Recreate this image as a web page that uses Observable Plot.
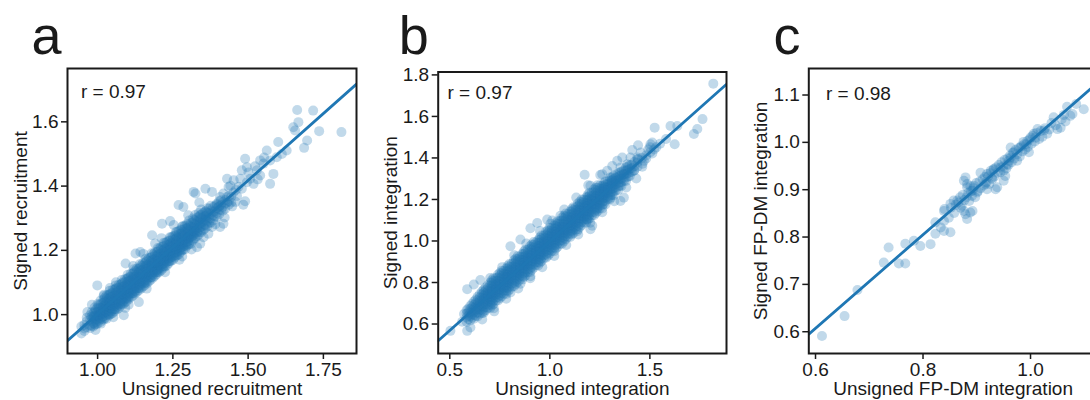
<!DOCTYPE html>
<html>
<head>
<meta charset="utf-8">
<script src="https://cdn.jsdelivr.net/npm/d3@7"></script>
<script src="https://cdn.jsdelivr.net/npm/@observablehq/plot@0.6"></script>
<style>
  html, body { margin: 0; padding: 0; background: #fff; overflow: hidden; }
  #fig { position: relative; width: 1090px; height: 400px; overflow: hidden; background: #fff; }
  #fig > svg { position: absolute; top: 0; }
</style>
</head>
<body>
<div id="fig"></div>
<script>
// ---- Panel a: signed vs unsigned recruitment ----
// dense band, one column of signed values per unsigned value
const recruitCore = [
  [0.946, [0.941, 0.963]],
  [0.956, [0.949, 0.968, 0.957]],
  [0.964, [0.961, 0.979, 0.990]],
  [0.975, [0.966, 0.984, 0.998, 0.958]],
  [0.986, [0.973, 0.989, 1.004, 0.994, 0.963]],
  [0.994, [0.977, 0.993, 1.005, 1.016, 0.984, 0.969]],
  [1.004, [0.981, 0.995, 1.009, 1.019, 1.031, 1.000]],
  [1.016, [0.986, 1.001, 1.011, 1.022, 1.036, 1.006, 0.993]],
  [1.024, [0.989, 1.005, 1.018, 1.029, 1.042, 1.053, 1.012]],
  [1.036, [0.997, 1.013, 1.025, 1.036, 1.048, 1.061, 1.021, 1.003]],
  [1.044, [1.002, 1.018, 1.030, 1.043, 1.055, 1.066, 1.027, 1.009]],
  [1.056, [1.010, 1.026, 1.039, 1.051, 1.062, 1.078, 1.033, 1.017]],
  [1.064, [1.016, 1.033, 1.045, 1.059, 1.070, 1.084, 1.042, 1.024]],
  [1.076, [1.027, 1.040, 1.054, 1.066, 1.079, 1.093, 1.047, 1.034]],
  [1.084, [1.032, 1.050, 1.061, 1.075, 1.087, 1.100, 1.058, 1.041]],
  [1.096, [1.041, 1.056, 1.072, 1.084, 1.094, 1.111, 1.063, 1.050]],
  [1.104, [1.048, 1.065, 1.077, 1.092, 1.105, 1.116, 1.073, 1.057]],
  [1.116, [1.058, 1.072, 1.087, 1.099, 1.113, 1.127, 1.080, 1.066]],
  [1.124, [1.065, 1.082, 1.094, 1.109, 1.119, 1.136, 1.090, 1.073]],
  [1.136, [1.075, 1.089, 1.105, 1.116, 1.130, 1.142, 1.098, 1.083]],
  [1.144, [1.081, 1.099, 1.111, 1.126, 1.137, 1.153, 1.105, 1.092]],
  [1.156, [1.091, 1.105, 1.122, 1.133, 1.147, 1.159, 1.115, 1.098]],
  [1.164, [1.097, 1.116, 1.128, 1.143, 1.154, 1.169, 1.122, 1.108]],
  [1.176, [1.108, 1.122, 1.139, 1.150, 1.165, 1.177, 1.132, 1.115]],
  [1.184, [1.115, 1.133, 1.145, 1.161, 1.171, 1.188, 1.139, 1.125]],
  [1.196, [1.126, 1.139, 1.156, 1.167, 1.182, 1.195, 1.149, 1.132]],
  [1.204, [1.132, 1.150, 1.162, 1.178, 1.189, 1.205, 1.156, 1.143]],
  [1.216, [1.143, 1.157, 1.173, 1.184, 1.199, 1.212, 1.166, 1.149]],
  [1.224, [1.149, 1.167, 1.180, 1.195, 1.206, 1.223, 1.173, 1.160]],
  [1.236, [1.160, 1.174, 1.190, 1.202, 1.217, 1.230, 1.183, 1.166]],
  [1.244, [1.167, 1.184, 1.197, 1.213, 1.224, 1.241, 1.190, 1.177]],
  [1.256, [1.177, 1.191, 1.208, 1.219, 1.234, 1.247, 1.200, 1.184]],
  [1.264, [1.184, 1.201, 1.214, 1.230, 1.241, 1.258, 1.207, 1.194]],
  [1.276, [1.195, 1.208, 1.225, 1.237, 1.252, 1.265, 1.217, 1.201]],
  [1.284, [1.202, 1.219, 1.231, 1.247, 1.258, 1.275, 1.224, 1.212]],
  [1.296, [1.213, 1.226, 1.242, 1.254, 1.269, 1.282, 1.235, 1.219]],
  [1.304, [1.220, 1.237, 1.249, 1.265, 1.276, 1.293, 1.242]],
  [1.316, [1.231, 1.244, 1.260, 1.271, 1.287, 1.299, 1.252]],
  [1.324, [1.238, 1.255, 1.267, 1.282, 1.293, 1.310, 1.259]],
  [1.336, [1.249, 1.262, 1.278, 1.289, 1.304, 1.316]],
  [1.344, [1.256, 1.273, 1.285, 1.300, 1.311, 1.327]],
  [1.356, [1.267, 1.280, 1.296, 1.306, 1.321]],
  [1.364, [1.274, 1.291, 1.302, 1.317, 1.331]],
  [1.376, [1.286, 1.299, 1.313, 1.324, 1.339]],
  [1.384, [1.293, 1.309, 1.320, 1.335]],
  [1.396, [1.304, 1.316, 1.331, 1.342]],
  [1.404, [1.312, 1.327, 1.338, 1.353]],
  [1.416, [1.323, 1.335, 1.350]],
  [1.424, [1.330, 1.346, 1.357]],
  [1.436, [1.342, 1.353, 1.369]],
  [1.444, [1.349, 1.367]],
  [0.980, [0.965, 0.979, 0.993, 1.007]],
  [0.990, [0.969, 0.983, 0.996, 1.009, 1.022]],
  [1.000, [0.972, 0.985, 0.997, 1.009, 1.021, 1.033]],
  [1.010, [0.977, 0.989, 1.000, 1.010, 1.021, 1.032, 1.044]],
  [1.020, [0.984, 0.995, 1.006, 1.016, 1.026, 1.036, 1.047, 1.058]],
  [1.030, [0.987, 0.999, 1.010, 1.019, 1.029, 1.040, 1.051, 1.060]],
  [1.040, [1.000, 1.011, 1.022, 1.032, 1.042, 1.052, 1.063, 1.074]],
  [1.050, [1.004, 1.016, 1.027, 1.036, 1.046, 1.057, 1.068, 1.077]],
  [1.060, [1.017, 1.028, 1.039, 1.049, 1.059, 1.069, 1.080, 1.091]],
  [1.070, [1.020, 1.032, 1.043, 1.052, 1.062, 1.073, 1.084, 1.093]],
  [1.080, [1.034, 1.045, 1.056, 1.066, 1.076, 1.086, 1.097, 1.108]],
  [1.090, [1.037, 1.049, 1.060, 1.069, 1.079, 1.090, 1.101, 1.110]],
  [1.100, [1.050, 1.061, 1.072, 1.082, 1.092, 1.102, 1.113, 1.124]],
  [1.110, [1.054, 1.066, 1.077, 1.086, 1.096, 1.107, 1.118, 1.127]],
  [1.120, [1.067, 1.078, 1.089, 1.099, 1.109, 1.119, 1.130, 1.141]],
  [1.130, [1.070, 1.082, 1.093, 1.102, 1.112, 1.123, 1.134, 1.143]],
  [1.140, [1.083, 1.094, 1.105, 1.115, 1.125, 1.135, 1.146, 1.157]],
  [1.150, [1.087, 1.099, 1.110, 1.119, 1.129, 1.140, 1.151, 1.160]],
  [1.160, [1.100, 1.111, 1.122, 1.132, 1.142, 1.152, 1.163, 1.174]],
  [1.170, [1.103, 1.115, 1.126, 1.135, 1.145, 1.156, 1.167, 1.176]],
  [1.180, [1.117, 1.128, 1.139, 1.149, 1.159, 1.169, 1.180, 1.191]],
  [1.190, [1.120, 1.132, 1.143, 1.152, 1.162, 1.173, 1.184, 1.193]],
  [1.200, [1.133, 1.144, 1.155, 1.165, 1.175, 1.185, 1.196, 1.207]],
  [1.210, [1.137, 1.149, 1.160, 1.169, 1.179, 1.190, 1.201, 1.210]],
  [1.220, [1.150, 1.161, 1.172, 1.182, 1.192, 1.202, 1.213, 1.224]],
  [1.230, [1.153, 1.165, 1.176, 1.185, 1.195, 1.206, 1.217, 1.226]],
  [1.240, [1.167, 1.178, 1.189, 1.199, 1.209, 1.219, 1.230, 1.241]],
  [1.250, [1.170, 1.182, 1.193, 1.202, 1.212, 1.223, 1.234, 1.243]],
  [1.260, [1.183, 1.194, 1.205, 1.215, 1.225, 1.235, 1.246, 1.257]],
  [1.270, [1.187, 1.199, 1.210, 1.219, 1.229, 1.240, 1.251, 1.260]],
  [1.280, [1.200, 1.211, 1.222, 1.232, 1.242, 1.252, 1.263, 1.274]],
  [1.290, [1.203, 1.215, 1.226, 1.235, 1.245, 1.256, 1.267, 1.276]],
  [1.300, [1.217, 1.228, 1.239, 1.249, 1.259, 1.269, 1.280]],
  [1.310, [1.220, 1.232, 1.243, 1.252, 1.262, 1.273, 1.284]],
  [1.320, [1.237, 1.248, 1.260, 1.271, 1.283, 1.295]],
  [1.330, [1.244, 1.256, 1.268, 1.279, 1.290, 1.302]],
  [1.340, [1.258, 1.271, 1.284, 1.296, 1.309]],
  [1.350, [1.263, 1.277, 1.290, 1.303, 1.316]],
  [1.360, [1.279, 1.294, 1.308, 1.322]],
  [1.370, [1.286, 1.301, 1.316, 1.330]],
  [1.390, [1.306, 1.322, 1.338]],
  [1.410, [1.326, 1.341, 1.356]],
  [1.430, [1.349, 1.366]]
];
// scattered points around and beyond the band
const recruitSpread = [
  [0.966, 1.008], [0.993, 0.952], [0.999, 1.091], [1.087, 0.998], [1.137, 1.039],
  [1.093, 1.159], [1.126, 1.190], [1.142, 1.195], [1.181, 1.247], [1.214, 1.283],
  [1.198, 1.138], [1.269, 1.341], [1.285, 1.335], [1.319, 1.382], [1.325, 1.377],
  [1.358, 1.392], [1.380, 1.382], [1.330, 1.210], [1.341, 1.221], [1.380, 1.273],
  [1.407, 1.273], [1.418, 1.283], [1.396, 1.345], [1.402, 1.335], [1.418, 1.377],
  [1.407, 1.366], [1.430, 1.423], [1.435, 1.397], [1.463, 1.369], [1.451, 1.380],
  [1.490, 1.353], [1.484, 1.342], [1.474, 1.423], [1.479, 1.392], [1.507, 1.423],
  [1.518, 1.407], [1.496, 1.412], [1.490, 1.485], [1.496, 1.459], [1.479, 1.449],
  [1.540, 1.480], [1.529, 1.449], [1.540, 1.433], [1.573, 1.480], [1.551, 1.470],
  [1.584, 1.438], [1.573, 1.407], [1.562, 1.511], [1.600, 1.537], [1.595, 1.490],
  [1.628, 1.511], [1.612, 1.500], [1.656, 1.573], [1.650, 1.583], [1.686, 1.519],
  [1.696, 1.542], [1.667, 1.599], [1.736, 1.571], [1.810, 1.568], [1.716, 1.635],
  [1.663, 1.637],
  [1.021, 1.062], [1.052, 0.992], [1.061, 1.101], [1.103, 1.031], [1.152, 1.189],
  [1.163, 1.081], [1.212, 1.238], [1.224, 1.132], [1.253, 1.279], [1.272, 1.171],
  [1.301, 1.309], [1.312, 1.203], [1.338, 1.349], [1.352, 1.241], [1.241, 1.291],
  [1.281, 1.181], [1.191, 1.221], [1.118, 1.151], [1.041, 1.083], [0.981, 1.031],
  [1.011, 0.972], [1.092, 1.021], [1.368, 1.252], [1.391, 1.281], [1.422, 1.302],
  [1.441, 1.401], [1.458, 1.351], [1.452, 1.418], [1.468, 1.398], [1.501, 1.442],
  [1.523, 1.462], [1.532, 1.421], [1.553, 1.489], [1.459, 1.388], [1.447, 1.337]
];
const recruitFit = [0.170, 0.832];            // intercept, slope
const recruitXTicks = [1.00, 1.25, 1.50, 1.75];
const recruitYTicks = [1.0, 1.2, 1.4, 1.6];

// ---- Panel b: signed vs unsigned integration ----
const integrationCore = [
  [0.584, [0.611, 0.631, 0.649, 0.666]],
  [0.602, [0.617, 0.637, 0.654, 0.671, 0.687]],
  [0.621, [0.625, 0.643, 0.660, 0.676, 0.692, 0.709]],
  [0.639, [0.637, 0.654, 0.670, 0.685, 0.700, 0.715, 0.731]],
  [0.661, [0.652, 0.669, 0.685, 0.699, 0.713, 0.728, 0.743, 0.757]],
  [0.679, [0.665, 0.681, 0.696, 0.710, 0.722, 0.734, 0.747, 0.762, 0.776]],
  [0.702, [0.677, 0.693, 0.707, 0.721, 0.734, 0.746, 0.758, 0.771, 0.786, 0.800]],
  [0.718, [0.696, 0.712, 0.727, 0.741, 0.753, 0.765, 0.778, 0.792, 0.807, 0.820]],
  [0.741, [0.713, 0.729, 0.745, 0.758, 0.770, 0.782, 0.795, 0.809, 0.824, 0.838]],
  [0.759, [0.733, 0.749, 0.764, 0.778, 0.790, 0.802, 0.815, 0.830, 0.844, 0.857]],
  [0.782, [0.745, 0.761, 0.775, 0.789, 0.802, 0.814, 0.826, 0.839, 0.854, 0.868]],
  [0.798, [0.765, 0.781, 0.796, 0.810, 0.822, 0.834, 0.847, 0.861, 0.876, 0.889]],
  [0.821, [0.782, 0.798, 0.814, 0.827, 0.839, 0.851, 0.864, 0.878, 0.893, 0.907]],
  [0.839, [0.802, 0.818, 0.833, 0.847, 0.859, 0.871, 0.884, 0.899, 0.913, 0.926]],
  [0.862, [0.814, 0.830, 0.844, 0.858, 0.871, 0.883, 0.895, 0.908, 0.923, 0.937]],
  [0.878, [0.833, 0.849, 0.864, 0.878, 0.890, 0.902, 0.915, 0.929, 0.944, 0.957]],
  [0.901, [0.850, 0.866, 0.882, 0.895, 0.907, 0.919, 0.932, 0.946, 0.961, 0.975]],
  [0.919, [0.871, 0.887, 0.902, 0.916, 0.928, 0.940, 0.953, 0.968, 0.982, 0.995]],
  [0.942, [0.882, 0.898, 0.912, 0.926, 0.939, 0.951, 0.963, 0.976, 0.991, 1.005]],
  [0.958, [0.902, 0.918, 0.933, 0.947, 0.959, 0.971, 0.984, 0.998, 1.013, 1.026]],
  [0.981, [0.919, 0.935, 0.951, 0.964, 0.976, 0.988, 1.001, 1.015, 1.030, 1.044]],
  [0.999, [0.939, 0.955, 0.970, 0.984, 0.996, 1.008, 1.021, 1.036, 1.050, 1.063]],
  [1.022, [0.951, 0.967, 0.981, 0.995, 1.008, 1.020, 1.032, 1.045, 1.060, 1.074]],
  [1.038, [0.971, 0.987, 1.002, 1.016, 1.028, 1.040, 1.053, 1.067, 1.082, 1.095]],
  [1.061, [0.987, 1.003, 1.019, 1.032, 1.044, 1.056, 1.069, 1.083, 1.098, 1.112]],
  [1.079, [1.008, 1.024, 1.039, 1.053, 1.065, 1.077, 1.090, 1.105, 1.119, 1.132]],
  [1.102, [1.019, 1.035, 1.049, 1.063, 1.076, 1.088, 1.100, 1.113, 1.128, 1.142]],
  [1.118, [1.039, 1.055, 1.070, 1.084, 1.096, 1.108, 1.121, 1.135, 1.150, 1.163]],
  [1.141, [1.056, 1.072, 1.088, 1.101, 1.113, 1.125, 1.138, 1.152, 1.167, 1.181]],
  [1.159, [1.076, 1.092, 1.107, 1.121, 1.133, 1.145, 1.158, 1.173, 1.187, 1.200]],
  [1.182, [1.088, 1.104, 1.118, 1.132, 1.145, 1.157, 1.169, 1.182, 1.197, 1.211]],
  [1.198, [1.108, 1.124, 1.139, 1.153, 1.165, 1.177, 1.190, 1.204, 1.219, 1.232]],
  [1.221, [1.124, 1.140, 1.156, 1.169, 1.181, 1.193, 1.206, 1.220, 1.235, 1.249]],
  [1.239, [1.145, 1.161, 1.176, 1.190, 1.202, 1.214, 1.227, 1.242, 1.256, 1.269]],
  [1.262, [1.157, 1.173, 1.187, 1.201, 1.214, 1.226, 1.238, 1.251, 1.266]],
  [1.278, [1.176, 1.192, 1.207, 1.221, 1.233, 1.245, 1.258, 1.272, 1.287]],
  [1.301, [1.201, 1.218, 1.234, 1.248, 1.262, 1.277, 1.292, 1.306]],
  [1.319, [1.221, 1.238, 1.254, 1.268, 1.283, 1.299, 1.315]],
  [1.342, [1.246, 1.263, 1.279, 1.294, 1.310, 1.326]],
  [1.358, [1.265, 1.283, 1.300, 1.317, 1.334]],
  [1.381, [1.289, 1.306, 1.323, 1.339, 1.355]],
  [1.399, [1.312, 1.330, 1.348, 1.366]],
  [1.422, [1.340, 1.360, 1.380]],
  [1.438, [1.358, 1.378, 1.395]],
  [0.592, [0.623, 0.640, 0.657, 0.673]],
  [0.612, [0.630, 0.648, 0.665, 0.681, 0.697]],
  [0.630, [0.639, 0.655, 0.671, 0.686, 0.701, 0.718]],
  [0.650, [0.650, 0.667, 0.683, 0.698, 0.712, 0.728, 0.743]],
  [0.670, [0.663, 0.679, 0.695, 0.709, 0.723, 0.737, 0.752, 0.766]],
  [0.690, [0.677, 0.692, 0.706, 0.720, 0.732, 0.744, 0.758, 0.772, 0.787]],
  [0.710, [0.689, 0.704, 0.719, 0.733, 0.745, 0.757, 0.770, 0.784, 0.799, 0.811]],
  [0.730, [0.712, 0.727, 0.741, 0.755, 0.767, 0.779, 0.793, 0.807, 0.822]],
  [0.750, [0.724, 0.739, 0.754, 0.768, 0.780, 0.792, 0.805, 0.819, 0.834, 0.846]],
  [0.770, [0.746, 0.761, 0.775, 0.789, 0.801, 0.813, 0.827, 0.841, 0.856]],
  [0.790, [0.758, 0.773, 0.788, 0.802, 0.814, 0.826, 0.839, 0.853, 0.868, 0.880]],
  [0.810, [0.780, 0.795, 0.809, 0.823, 0.835, 0.847, 0.861, 0.875, 0.890]],
  [0.830, [0.792, 0.807, 0.822, 0.836, 0.848, 0.860, 0.873, 0.887, 0.902, 0.914]],
  [0.850, [0.814, 0.829, 0.843, 0.857, 0.869, 0.881, 0.895, 0.909, 0.924]],
  [0.870, [0.827, 0.842, 0.857, 0.871, 0.883, 0.895, 0.908, 0.922, 0.937, 0.949]],
  [0.890, [0.849, 0.864, 0.878, 0.892, 0.904, 0.916, 0.930, 0.944, 0.959]],
  [0.910, [0.861, 0.876, 0.891, 0.905, 0.917, 0.929, 0.942, 0.956, 0.971, 0.983]],
  [0.930, [0.883, 0.898, 0.912, 0.926, 0.938, 0.950, 0.964, 0.978, 0.993]],
  [0.950, [0.895, 0.910, 0.925, 0.939, 0.951, 0.963, 0.976, 0.990, 1.005, 1.017]],
  [0.970, [0.917, 0.932, 0.946, 0.960, 0.972, 0.984, 0.998, 1.012, 1.027]],
  [0.990, [0.929, 0.944, 0.959, 0.973, 0.985, 0.997, 1.010, 1.024, 1.039, 1.051]],
  [1.010, [0.952, 0.967, 0.981, 0.995, 1.007, 1.019, 1.033, 1.047, 1.062]],
  [1.030, [0.964, 0.979, 0.994, 1.008, 1.020, 1.032, 1.045, 1.059, 1.074, 1.086]],
  [1.050, [0.986, 1.001, 1.015, 1.029, 1.041, 1.053, 1.067, 1.081, 1.096]],
  [1.070, [0.998, 1.013, 1.028, 1.042, 1.054, 1.066, 1.079, 1.093, 1.108, 1.120]],
  [1.090, [1.020, 1.035, 1.049, 1.063, 1.075, 1.087, 1.101, 1.115, 1.130]],
  [1.110, [1.032, 1.047, 1.062, 1.076, 1.088, 1.100, 1.113, 1.127, 1.142, 1.154]],
  [1.130, [1.054, 1.069, 1.083, 1.097, 1.109, 1.121, 1.135, 1.149, 1.164]],
  [1.150, [1.067, 1.082, 1.097, 1.111, 1.123, 1.135, 1.148, 1.162, 1.177, 1.189]],
  [1.170, [1.089, 1.104, 1.118, 1.132, 1.144, 1.156, 1.170, 1.184, 1.199]],
  [1.190, [1.101, 1.116, 1.131, 1.145, 1.157, 1.169, 1.182, 1.196, 1.211, 1.223]],
  [1.210, [1.123, 1.138, 1.152, 1.166, 1.178, 1.190, 1.204, 1.218, 1.233]],
  [1.230, [1.135, 1.150, 1.165, 1.179, 1.191, 1.203, 1.216, 1.230, 1.245, 1.257]],
  [1.250, [1.157, 1.172, 1.186, 1.200, 1.212, 1.224, 1.238, 1.252, 1.267]],
  [1.270, [1.179, 1.194, 1.209, 1.222, 1.235, 1.249, 1.263, 1.277]],
  [1.290, [1.202, 1.217, 1.232, 1.245, 1.259, 1.274, 1.289]],
  [1.310, [1.222, 1.237, 1.251, 1.264, 1.278, 1.292, 1.306]],
  [1.330, [1.243, 1.259, 1.274, 1.289, 1.304, 1.319]],
  [1.350, [1.266, 1.282, 1.298, 1.314, 1.330]],
  [1.370, [1.289, 1.306, 1.323, 1.340]],
  [1.390, [1.310, 1.326, 1.342, 1.358]],
  [1.410, [1.334, 1.351, 1.367]]
];
const integrationSpread = [
  [1.817, 1.758], [1.763, 1.587], [1.737, 1.539], [1.720, 1.515], [1.624, 1.466],
  [1.603, 1.554], [1.637, 1.554], [1.524, 1.546], [1.512, 1.474], [1.503, 1.466],
  [1.454, 1.426], [1.437, 1.402], [1.470, 1.386], [1.403, 1.402], [1.387, 1.370],
  [1.420, 1.338], [1.370, 1.322], [1.337, 1.386], [1.353, 1.354], [1.262, 1.322],
  [1.287, 1.338], [1.312, 1.290], [1.270, 1.257], [1.370, 1.209], [1.353, 1.193],
  [1.303, 1.209], [1.174, 1.319], [1.203, 1.057], [1.212, 1.073], [0.987, 1.103],
  [0.937, 1.087], [0.903, 1.061], [0.853, 1.007], [0.803, 0.975], [0.653, 0.812],
  [0.587, 0.768], [0.620, 0.790], [0.670, 0.654], [0.603, 0.583], [0.587, 0.567],
  [0.503, 0.567], [0.720, 0.676], [0.803, 0.752], [0.853, 0.794], [0.903, 0.830],
  [1.203, 1.266], [1.187, 1.105], [1.237, 1.155], [1.137, 1.047], [1.003, 1.083],
  [1.053, 1.121],
  [0.702, 0.822], [0.762, 0.874], [0.822, 0.931], [0.882, 0.988], [0.951, 1.048],
  [1.012, 1.099], [1.072, 1.152], [1.132, 1.209], [1.192, 1.268], [1.252, 1.318],
  [1.312, 1.361], [1.362, 1.402], [1.412, 1.438], [1.441, 1.461],
  [0.662, 0.622], [0.722, 0.661], [0.782, 0.722], [0.842, 0.771], [0.902, 0.821],
  [0.962, 0.874], [1.022, 0.928], [1.082, 0.981], [1.142, 1.031], [1.202, 1.088],
  [1.262, 1.139], [1.322, 1.191], [1.382, 1.258], [1.432, 1.301], [1.462, 1.358],
  [1.482, 1.398], [1.502, 1.428], [1.521, 1.441], [1.551, 1.468], [1.581, 1.491],
  [1.441, 1.392], [1.461, 1.401], [1.481, 1.412], [1.501, 1.452], [1.512, 1.421],
  [1.532, 1.451], [1.463, 1.372], [1.492, 1.441], [0.571, 0.648], [0.562, 0.611]
];
const integrationFit = [0.141, 0.857];
const integrationXTicks = [0.5, 1.0, 1.5];
const integrationYTicks = [0.6, 0.8, 1.0, 1.2, 1.4, 1.6, 1.8];

// ---- Panel c: signed vs unsigned FP-DM integration ----
const fpdmPoints = [
  [0.612, 0.591], [0.654, 0.633], [0.678, 0.688], [0.727, 0.746], [0.736, 0.778],
  [0.755, 0.744], [0.767, 0.744], [0.767, 0.786], [0.783, 0.792], [0.795, 0.781],
  [0.814, 0.785], [0.823, 0.807], [0.823, 0.831], [0.833, 0.820], [0.839, 0.813],
  [0.851, 0.810], [0.839, 0.834], [0.848, 0.841], [0.840, 0.859], [0.839, 0.855],
  [0.857, 0.877], [0.851, 0.870], [0.864, 0.877], [0.870, 0.862], [0.876, 0.855],
  [0.879, 0.848], [0.882, 0.838], [0.892, 0.855], [0.888, 0.852], [0.879, 0.926],
  [0.882, 0.912], [0.895, 0.908], [0.901, 0.894], [0.876, 0.919], [0.882, 0.905],
  [0.892, 0.898], [0.888, 0.908], [0.907, 0.936], [0.919, 0.933], [0.932, 0.944],
  [0.938, 0.905], [0.950, 0.919], [0.957, 0.954], [0.916, 0.912], [0.919, 0.901],
  [0.926, 0.940], [0.929, 0.922], [0.935, 0.901], [0.944, 0.947], [0.950, 0.940],
  [0.953, 0.929], [0.960, 0.961], [0.963, 0.968], [0.969, 0.979], [0.963, 0.989],
  [0.975, 0.961], [0.981, 0.989], [0.988, 0.996], [0.994, 1.003], [0.997, 0.979],
  [1.000, 1.010], [1.006, 1.018], [1.013, 1.028], [1.025, 1.025], [1.009, 1.010],
  [1.016, 1.007], [1.031, 1.018], [1.043, 1.053], [1.056, 1.031], [1.050, 1.028],
  [1.065, 1.044], [1.068, 1.075], [1.074, 1.056], [1.078, 1.060], [1.099, 1.070],
  [0.852, 0.862], [0.858, 0.851], [0.861, 0.868], [0.866, 0.873], [0.869, 0.884],
  [0.872, 0.866], [0.874, 0.889], [0.877, 0.878], [0.881, 0.884], [0.884, 0.893],
  [0.886, 0.876], [0.889, 0.897], [0.891, 0.887], [0.894, 0.903], [0.897, 0.884],
  [0.899, 0.914], [0.902, 0.897], [0.905, 0.917], [0.907, 0.903], [0.911, 0.922],
  [0.913, 0.909], [0.915, 0.927], [0.918, 0.916], [0.921, 0.928], [0.923, 0.912],
  [0.925, 0.935], [0.928, 0.925], [0.931, 0.942], [0.933, 0.928], [0.936, 0.947],
  [0.939, 0.936], [0.941, 0.952], [0.944, 0.937], [0.946, 0.958], [0.949, 0.949],
  [0.952, 0.963], [0.955, 0.945], [0.957, 0.966], [0.959, 0.952], [0.962, 0.972],
  [0.965, 0.958], [0.967, 0.978], [0.970, 0.966], [0.972, 0.984], [0.975, 0.975],
  [0.978, 0.988], [0.980, 0.970], [0.983, 0.992], [0.985, 0.981], [0.987, 1.001],
  [0.990, 0.985], [0.992, 0.996], [0.995, 0.990], [0.998, 1.006], [1.002, 0.997],
  [1.004, 1.014], [1.008, 1.002], [1.011, 1.020], [1.019, 1.024], [1.022, 1.012],
  [1.027, 1.030], [1.035, 1.027], [1.039, 1.041], [1.047, 1.036], [1.058, 1.049],
  [1.062, 1.058], [1.085, 1.081]
];
const fpdmFit = [0.0145, 0.988];
const fpdmXTicks = [0.6, 0.8, 1.0];
const fpdmYTicks = [0.6, 0.7, 0.8, 0.9, 1.0, 1.1];

const panelLetters = ["a", "b", "c"];
const rLabels = ["r = 0.97", "r = 0.97", "r = 0.98"];
const xLabels = ["Unsigned recruitment", "Unsigned integration", "Unsigned FP-DM integration"];
const yLabels = ["Signed recruitment", "Signed integration", "Signed FP-DM integration"];

// ---- drawing ----
const BLUE = "#1f77b4";
const INK = "#1a1a1a";
const FONT = "'Liberation Sans', Arial, Helvetica, sans-serif";

const expand = (core, spread) => [
  ...core.flatMap(([x, ys]) => ys.map((y) => [x, y])),
  ...spread
];

function scatterPanel(o) {
  const fitLine = o.xDomain.map((x) => ({x, y: o.fit[0] + o.fit[1] * x}));
  const svg = Plot.plot({
    width: 370,
    height: 400,
    marginTop: o.marginTop,
    marginRight: o.marginRight,
    marginBottom: 47,
    marginLeft: o.marginLeft,
    x: {domain: o.xDomain},
    y: {domain: o.yDomain},
    style: {fontFamily: FONT, fontSize: "19px", color: INK, background: "transparent", overflow: "visible"},
    marks: [
      Plot.dot(o.points, {x: (d) => d[0], y: (d) => d[1], r: 5, fill: BLUE, fillOpacity: 0.28, stroke: null, clip: true}),
      Plot.line(fitLine, {x: "x", y: "y", stroke: BLUE, strokeWidth: 2.8, clip: true}),
      Plot.frame({stroke: INK, strokeWidth: 2}),
      Plot.axisX({ticks: o.xTicks, tickFormat: d3.format(o.xFormat), tickSize: 6, tickPadding: 3, strokeWidth: 1.5, label: null}),
      Plot.axisY({ticks: o.yTicks, tickFormat: d3.format(o.yFormat), tickSize: 6, tickPadding: 3, strokeWidth: 1.5, label: null}),
      Plot.text([o.xLabel], {text: (d) => d, frameAnchor: "bottom", dy: 35.5, textAnchor: "middle", lineAnchor: "middle", fill: INK}),
      Plot.text([o.yLabel], {text: (d) => d, frameAnchor: "left", dx: o.yLabelDx, rotate: -90, textAnchor: "middle", lineAnchor: "middle", fill: INK}),
      Plot.text([o.rLabel], {text: (d) => d, frameAnchor: "top-left", dx: o.rDx, dy: o.rDy, textAnchor: "start", lineAnchor: "bottom", fill: INK}),
      Plot.text([o.letter], {text: (d) => d, frameAnchor: "top-left", dx: o.letterDx, dy: o.letterDy, textAnchor: "start", lineAnchor: "bottom", fontSize: 54, fill: INK})
    ]
  });
  svg.style.left = `${o.left}px`;
  return svg;
}

const fig = document.getElementById("fig");

fig.append(scatterPanel({
  left: 0, marginLeft: 67, marginRight: 14, marginTop: 68,
  points: expand(recruitCore, recruitSpread), fit: recruitFit,
  xDomain: [0.90, 1.86], yDomain: [0.879, 1.766],
  xTicks: recruitXTicks, yTicks: recruitYTicks, xFormat: ".2f", yFormat: ".1f",
  xLabel: xLabels[0], yLabel: yLabels[0], yLabelDx: -47,
  rLabel: rLabels[0], rDx: 13.4, rDy: 29.3,
  letter: panelLetters[0], letterDx: -36, letterDy: -15
}));

fig.append(scatterPanel({
  left: 370, marginLeft: 67.7, marginRight: 14, marginTop: 71.5,
  points: expand(integrationCore, integrationSpread), fit: integrationFit,
  xDomain: [0.442, 1.883], yDomain: [0.458, 1.814],
  xTicks: integrationXTicks, yTicks: integrationYTicks, xFormat: ".1f", yFormat: ".1f",
  xLabel: xLabels[1], yLabel: yLabels[1], yLabelDx: -47.7,
  rLabel: rLabels[1], rDx: 9.3, rDy: 26.8,
  letter: panelLetters[1], letterDx: -39.5, letterDy: -18.5
}));

fig.append(scatterPanel({
  left: 740, marginLeft: 68.3, marginRight: 13, marginTop: 68,
  points: fpdmPoints, fit: fpdmFit,
  xDomain: [0.5875, 1.1246], yDomain: [0.554, 1.156],
  xTicks: fpdmXTicks, yTicks: fpdmYTicks, xFormat: ".1f", yFormat: ".1f",
  xLabel: xLabels[2], yLabel: yLabels[2], yLabelDx: -48.3,
  rLabel: rLabels[2], rDx: 17.1, rDy: 31.3,
  letter: panelLetters[2], letterDx: -35.3, letterDy: -14.7
}));
</script>
</body>
</html>
